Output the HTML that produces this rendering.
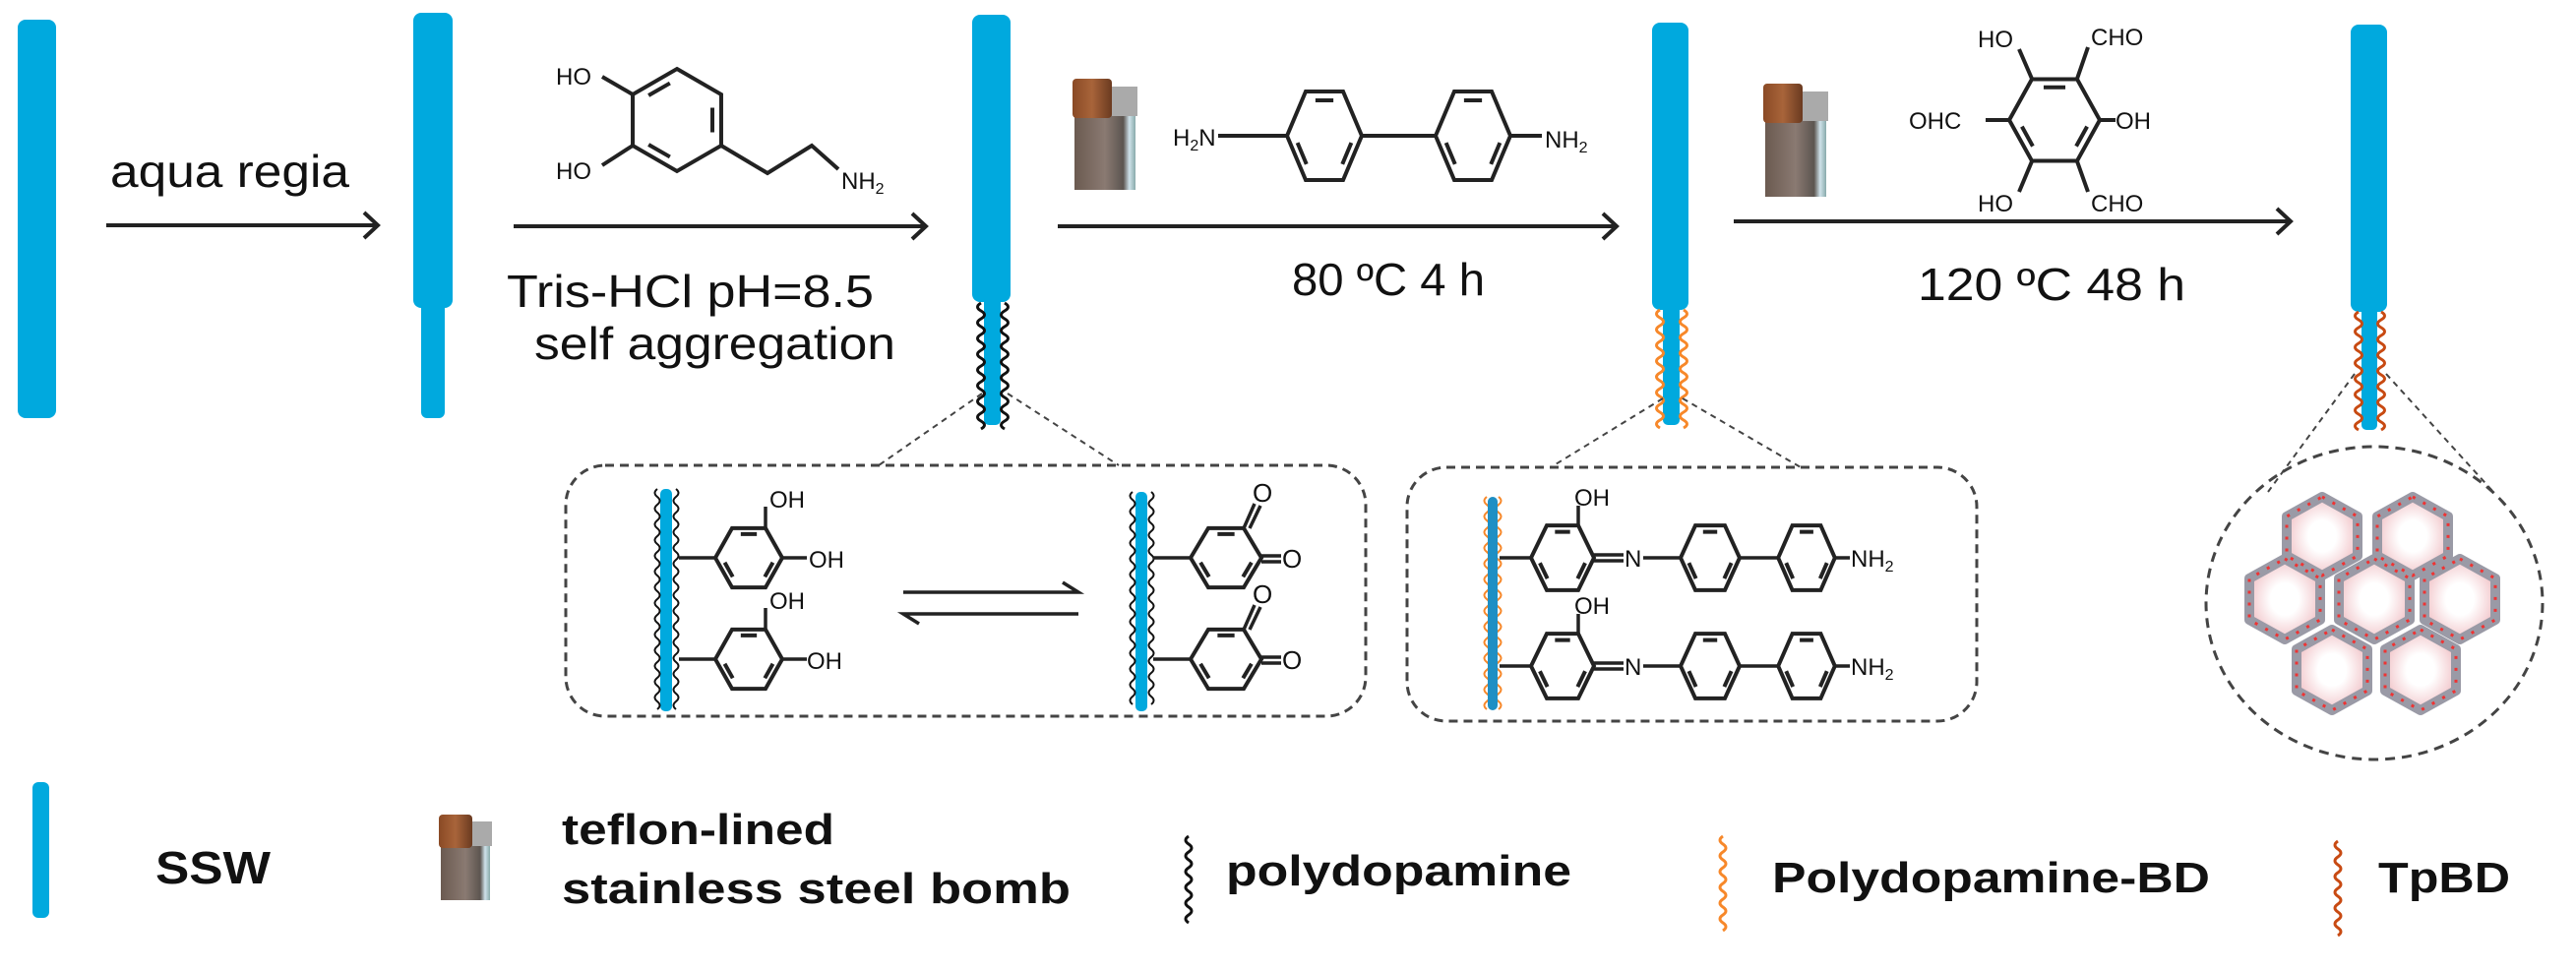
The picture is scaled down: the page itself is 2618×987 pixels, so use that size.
<!DOCTYPE html>
<html><head><meta charset="utf-8"><style>
html,body{margin:0;padding:0;background:#fff;}
svg{display:block;}
text{font-family:"Liberation Sans",Arial,sans-serif;fill:#111;}
.b{font-weight:bold;}
</style></head><body>
<svg width="2618" height="987" viewBox="0 0 2618 987" xmlns="http://www.w3.org/2000/svg">
<defs>
 <g id="ringP">
  <path d="M0,-40 L34.6,-20 L34.6,20 L0,40 L-34.6,20 L-34.6,-20 Z" fill="none" stroke="#222" stroke-width="4" vector-effect="non-scaling-stroke"/>
  <path d="M27.7,-9.6 L27.7,9.6 M-5.5,28.8 L-22.2,19.2 M-22.2,-19.2 L-5.5,-28.8" stroke="#222" stroke-width="4" vector-effect="non-scaling-stroke"/>
 </g>
 <g id="ringF">
  <path d="M-40,0 L-20,-34.6 L20,-34.6 L40,0 L20,34.6 L-20,34.6 Z" fill="none" stroke="#222" stroke-width="4" vector-effect="non-scaling-stroke"/>
  <path d="M-9.6,-27.7 L9.6,-27.7 M28.8,5.5 L19.2,22.2 M-19.2,22.2 L-28.8,5.5" stroke="#222" stroke-width="4" vector-effect="non-scaling-stroke"/>
 </g>
 <linearGradient id="bomb" x1="0" x2="1">
  <stop offset="0" stop-color="#6b5a50"/><stop offset="0.5" stop-color="#8a7a72"/><stop offset="0.8" stop-color="#5c5550"/><stop offset="0.9" stop-color="#cfe2ea"/><stop offset="1" stop-color="#8aa"/>
 </linearGradient>
 <linearGradient id="cap" x1="0" x2="1">
  <stop offset="0" stop-color="#8a4a25"/><stop offset="0.5" stop-color="#a8643a"/><stop offset="1" stop-color="#6a3a20"/>
 </linearGradient>
 <radialGradient id="pore"><stop offset="0.4" stop-color="#fff"/><stop offset="1" stop-color="#f2c8cc"/></radialGradient>
</defs>

<!-- Rods -->
<rect x="18" y="20" width="39" height="405" rx="8" fill="#00a9de"/>
<rect x="420" y="13" width="40" height="300" rx="8" fill="#00a9de"/>
<rect x="428" y="300" width="24" height="125" rx="6" fill="#00a9de"/>
<rect x="988" y="15" width="39" height="292" rx="8" fill="#00a9de"/>
<rect x="1000" y="300" width="17" height="132" rx="5" fill="#00a9de"/>
<rect x="1679" y="23" width="37" height="292" rx="8" fill="#00a9de"/>
<rect x="1690" y="305" width="17" height="127" rx="5" fill="#00a9de"/>
<rect x="2389" y="25" width="37" height="292" rx="8" fill="#00a9de"/>
<rect x="2400" y="307" width="16" height="130" rx="5" fill="#00a9de"/>

<!-- wavy coats -->
<g fill="none" stroke-width="3">
 <path stroke="#111" d="M997,308 q-7,4 0,8 t0,8 t0,8 t0,8 t0,8 t0,8 t0,8 t0,8 t0,8 t0,8 t0,8 t0,8 t0,8 t0,8 t0,8 t0,8"/>
 <path stroke="#111" d="M1021,308 q7,4 0,8 t0,8 t0,8 t0,8 t0,8 t0,8 t0,8 t0,8 t0,8 t0,8 t0,8 t0,8 t0,8 t0,8 t0,8 t0,8"/>
 <path stroke="#f7882a" d="M1687,315 q-7,4 0,8 t0,8 t0,8 t0,8 t0,8 t0,8 t0,8 t0,8 t0,8 t0,8 t0,8 t0,8 t0,8 t0,8 t0,8"/>
 <path stroke="#f7882a" d="M1711,315 q7,4 0,8 t0,8 t0,8 t0,8 t0,8 t0,8 t0,8 t0,8 t0,8 t0,8 t0,8 t0,8 t0,8 t0,8 t0,8"/>
 <path stroke="#c84a12" d="M2397,317 q-7,4 0,8 t0,8 t0,8 t0,8 t0,8 t0,8 t0,8 t0,8 t0,8 t0,8 t0,8 t0,8 t0,8 t0,8 t0,8"/>
 <path stroke="#c84a12" d="M2420,317 q7,4 0,8 t0,8 t0,8 t0,8 t0,8 t0,8 t0,8 t0,8 t0,8 t0,8 t0,8 t0,8 t0,8 t0,8 t0,8"/>
</g>

<!-- Arrows -->
<g stroke="#222" stroke-width="4" fill="none">
 <path d="M108,229 H383 M370,216 L384,229 L370,242"/>
 <path d="M522,230 H940 M927,217 L941,230 L927,243"/>
 <path d="M1075,230 H1642 M1629,217 L1643,230 L1629,243"/>
 <path d="M1762,225 H2327 M2314,212 L2328,225 L2314,238"/>
</g>

<!-- Reaction labels -->
<text x="112" y="190" font-size="46" textLength="243" lengthAdjust="spacingAndGlyphs">aqua regia</text>
<text x="515" y="312" font-size="46" textLength="373" lengthAdjust="spacingAndGlyphs">Tris-HCl pH=8.5</text>
<text x="543" y="365" font-size="46" textLength="367" lengthAdjust="spacingAndGlyphs">self aggregation</text>
<text x="1313" y="300" font-size="46" textLength="196" lengthAdjust="spacingAndGlyphs">80 ºC 4 h</text>
<text x="1949" y="305" font-size="46" textLength="272" lengthAdjust="spacingAndGlyphs">120 ºC 48 h</text>

<!-- Dopamine -->
<use href="#ringP" transform="translate(688,122) scale(1.3)"/>
<g stroke="#222" stroke-width="4" fill="none">
 <path d="M643,96 L612,78 M643,148 L612,168 M733,148 L780,176 L825,148 L852,172"/>
</g>
<text x="565" y="86" font-size="24">HO</text>
<text x="565" y="182" font-size="24">HO</text>
<text x="855" y="192" font-size="24">NH<tspan font-size="16" dy="5">2</tspan></text>

<!-- Bomb 1 -->
<rect x="1092" y="95" width="62" height="98" fill="url(#bomb)"/>
<rect x="1090" y="80" width="40" height="40" rx="4" fill="url(#cap)"/>
<rect x="1130" y="88" width="26" height="30" fill="#aaa"/>

<!-- Biphenyl -->
<use href="#ringF" transform="translate(1346,138) scale(0.95,1.3)"/>
<use href="#ringF" transform="translate(1497,138) scale(0.95,1.3)"/>
<g stroke="#222" stroke-width="4"><path d="M1238,138 H1308 M1384,138 H1459 M1535,138 H1567"/></g>
<text x="1192" y="148" font-size="24">H<tspan font-size="16" dy="5">2</tspan><tspan dy="-5">N</tspan></text>
<text x="1570" y="150" font-size="24">NH<tspan font-size="16" dy="5">2</tspan></text>

<!-- Bomb 2 -->
<rect x="1794" y="100" width="62" height="100" fill="url(#bomb)"/>
<rect x="1792" y="85" width="40" height="40" rx="4" fill="url(#cap)"/>
<rect x="1832" y="93" width="26" height="30" fill="#aaa"/>

<!-- Tp -->
<use href="#ringF" transform="translate(2088,122) scale(1.15,1.2)"/>
<g stroke="#222" stroke-width="4"><path d="M2065,80 L2052,50 M2111,80 L2122,48 M2042,122 H2018 M2134,122 H2150 M2065,164 L2052,195 M2111,164 L2122,195"/></g>
<text x="2010" y="48" font-size="24">HO</text>
<text x="2125" y="46" font-size="24">CHO</text>
<text x="1940" y="131" font-size="24">OHC</text>
<text x="2150" y="131" font-size="24">OH</text>
<text x="2010" y="215" font-size="24">HO</text>
<text x="2125" y="215" font-size="24">CHO</text>

<!-- Dotted connectors -->
<g stroke="#444" stroke-width="2" stroke-dasharray="6,5" fill="none">
 <path d="M998,400 L893,473 M1024,400 L1137,473"/>
 <path d="M1690,405 L1576,475 M1710,405 L1830,475"/>
 <path d="M2393,380 L2305,500 M2425,380 L2534,500"/>
</g>

<!-- Box 1 -->
<rect x="575" y="473" width="813" height="255" rx="40" fill="none" stroke="#444" stroke-width="3" stroke-dasharray="9,6"/>
<rect x="671" y="497" width="12" height="226" rx="5" fill="#00a9de"/>
<g fill="none" stroke="#111" stroke-width="2">
 <path d="M668,497 q-5,4 0,8 t0,8 t0,8 t0,8 t0,8 t0,8 t0,8 t0,8 t0,8 t0,8 t0,8 t0,8 t0,8 t0,8 t0,8 t0,8 t0,8 t0,8 t0,8 t0,8 t0,8 t0,8 t0,8 t0,8 t0,8 t0,8 t0,8 t0,8"/>
 <path d="M687,497 q5,4 0,8 t0,8 t0,8 t0,8 t0,8 t0,8 t0,8 t0,8 t0,8 t0,8 t0,8 t0,8 t0,8 t0,8 t0,8 t0,8 t0,8 t0,8 t0,8 t0,8 t0,8 t0,8 t0,8 t0,8 t0,8 t0,8 t0,8 t0,8"/>
</g>
<rect x="1154" y="500" width="12" height="223" rx="5" fill="#00a9de"/>
<g fill="none" stroke="#111" stroke-width="2">
 <path d="M1151,500 q-5,4 0,8 t0,8 t0,8 t0,8 t0,8 t0,8 t0,8 t0,8 t0,8 t0,8 t0,8 t0,8 t0,8 t0,8 t0,8 t0,8 t0,8 t0,8 t0,8 t0,8 t0,8 t0,8 t0,8 t0,8 t0,8 t0,8 t0,8"/>
 <path d="M1170,500 q5,4 0,8 t0,8 t0,8 t0,8 t0,8 t0,8 t0,8 t0,8 t0,8 t0,8 t0,8 t0,8 t0,8 t0,8 t0,8 t0,8 t0,8 t0,8 t0,8 t0,8 t0,8 t0,8 t0,8 t0,8 t0,8 t0,8 t0,8"/>
</g>
<use href="#ringF" transform="translate(761,567) scale(0.85,0.87)"/>
<use href="#ringF" transform="translate(761,670) scale(0.85,0.87)"/>
<use href="#ringF" transform="translate(1246,567) scale(0.9,0.87)"/>
<use href="#ringF" transform="translate(1246,670) scale(0.9,0.87)"/>
<g stroke="#222" stroke-width="3.5" fill="none">
 <path d="M690,567 H727 M778,537 V515 M795,567 H820"/>
 <path d="M690,670 H727 M778,640 V618 M795,670 H820"/>
 <path d="M1172,567 H1210 M1264,537 L1275,512 M1270,537 L1281,514 M1282,565 H1302 M1282,571 H1302"/>
 <path d="M1172,670 H1210 M1264,640 L1275,615 M1270,640 L1281,617 M1282,668 H1302 M1282,674 H1302"/>
 <path d="M918,602 H1096 L1080,592"/>
 <path d="M1096,624 H918 L934,634"/>
</g>
<text x="782" y="516" font-size="24">OH</text>
<text x="822" y="577" font-size="24">OH</text>
<text x="782" y="619" font-size="24">OH</text>
<text x="820" y="680" font-size="24">OH</text>
<text x="1273" y="510" font-size="26">O</text>
<text x="1303" y="577" font-size="26">O</text>
<text x="1273" y="613" font-size="26">O</text>
<text x="1303" y="680" font-size="26">O</text>

<!-- Box 2 -->
<rect x="1430" y="475" width="579" height="258" rx="40" fill="none" stroke="#444" stroke-width="3" stroke-dasharray="9,6"/>
<g fill="none" stroke="#f7882a" stroke-width="2">
 <path d="M1511,505 q-5,4 0,8 t0,8 t0,8 t0,8 t0,8 t0,8 t0,8 t0,8 t0,8 t0,8 t0,8 t0,8 t0,8 t0,8 t0,8 t0,8 t0,8 t0,8 t0,8 t0,8 t0,8 t0,8 t0,8 t0,8 t0,8 t0,8 t0,8"/>
 <path d="M1523,505 q5,4 0,8 t0,8 t0,8 t0,8 t0,8 t0,8 t0,8 t0,8 t0,8 t0,8 t0,8 t0,8 t0,8 t0,8 t0,8 t0,8 t0,8 t0,8 t0,8 t0,8 t0,8 t0,8 t0,8 t0,8 t0,8 t0,8 t0,8"/>
</g>
<rect x="1512" y="505" width="10" height="217" rx="5" fill="#1f8fc4"/>
<use href="#ringF" transform="translate(1588,567) scale(0.8,0.95)"/>
<use href="#ringF" transform="translate(1738,567) scale(0.75,0.95)"/>
<use href="#ringF" transform="translate(1836,567) scale(0.72,0.95)"/>
<use href="#ringF" transform="translate(1588,677) scale(0.8,0.95)"/>
<use href="#ringF" transform="translate(1738,677) scale(0.75,0.95)"/>
<use href="#ringF" transform="translate(1836,677) scale(0.72,0.95)"/>
<g stroke="#222" stroke-width="3.5" fill="none">
 <path d="M1524,567 H1556 M1604,534 V514 M1620,564 H1650 M1620,570 H1650 M1670,567 H1708 M1768,567 H1807 M1865,567 H1880"/>
 <path d="M1524,677 H1556 M1604,644 V624 M1620,674 H1650 M1620,680 H1650 M1670,677 H1708 M1768,677 H1807 M1865,677 H1880"/>
</g>
<text x="1600" y="514" font-size="24">OH</text>
<text x="1651" y="576" font-size="24">N</text>
<text x="1881" y="576" font-size="24">NH<tspan font-size="16" dy="5">2</tspan></text>
<text x="1600" y="624" font-size="24">OH</text>
<text x="1651" y="686" font-size="24">N</text>
<text x="1881" y="686" font-size="24">NH<tspan font-size="16" dy="5">2</tspan></text>

<!-- Circle + honeycomb -->
<ellipse cx="2413" cy="613" rx="171" ry="159" fill="none" stroke="#444" stroke-width="3" stroke-dasharray="10,7"/>
<g stroke="#9a9aa6" stroke-width="10" fill="url(#pore)" stroke-linejoin="round">
 <path d="M2360,505 l36,20 v40 l-36,20 l-36,-20 v-40 z"/>
 <path d="M2452,505 l36,20 v40 l-36,20 l-36,-20 v-40 z"/>
 <path d="M2322,568 l36,20 v42 l-36,20 l-36,-20 v-42 z"/>
 <path d="M2413,568 l36,20 v42 l-36,20 l-36,-20 v-42 z"/>
 <path d="M2500,568 l36,20 v42 l-36,20 l-36,-20 v-42 z"/>
 <path d="M2370,640 l36,20 v42 l-36,20 l-36,-20 v-42 z"/>
 <path d="M2460,640 l36,20 v42 l-36,20 l-36,-20 v-42 z"/>
</g>
<g stroke="#e33" stroke-width="3" stroke-dasharray="3,9" fill="none">
 <path d="M2360,505 l36,20 v40 l-36,20 l-36,-20 v-40 z M2452,505 l36,20 v40 l-36,20 l-36,-20 v-40 z M2322,568 l36,20 v42 l-36,20 l-36,-20 v-42 z M2413,568 l36,20 v42 l-36,20 l-36,-20 v-42 z M2500,568 l36,20 v42 l-36,20 l-36,-20 v-42 z M2370,640 l36,20 v42 l-36,20 l-36,-20 v-42 z M2460,640 l36,20 v42 l-36,20 l-36,-20 v-42 z"/>
</g>

<!-- Legend -->
<rect x="33" y="795" width="17" height="138" rx="6" fill="#00a9de"/>
<text class="b" x="158" y="898" font-size="46" textLength="117" lengthAdjust="spacingAndGlyphs">SSW</text>
<rect x="448" y="840" width="50" height="75" fill="url(#bomb)"/>
<rect x="446" y="828" width="34" height="34" rx="4" fill="url(#cap)"/>
<rect x="480" y="835" width="20" height="25" fill="#aaa"/>
<text class="b" x="571" y="858" font-size="44" textLength="277" lengthAdjust="spacingAndGlyphs">teflon-lined</text>
<text class="b" x="571" y="918" font-size="44" textLength="517" lengthAdjust="spacingAndGlyphs">stainless steel bomb</text>
<g fill="none" stroke-width="3">
 <path stroke="#111" d="M1208,850 q-6,4 0,8 t0,8 t0,8 t0,8 t0,8 t0,8 t0,8 t0,8 t0,8 t0,8 t0,8"/>
 <path stroke="#f7882a" d="M1751,850 q-6,4 0,8 t0,8 t0,8 t0,8 t0,8 t0,8 t0,8 t0,8 t0,8 t0,8 t0,8 t0,8"/>
 <path stroke="#c84a12" d="M2376,855 q-6,4 0,8 t0,8 t0,8 t0,8 t0,8 t0,8 t0,8 t0,8 t0,8 t0,8 t0,8 t0,8"/>
</g>
<text class="b" x="1246" y="900" font-size="44" textLength="351" lengthAdjust="spacingAndGlyphs">polydopamine</text>
<text class="b" x="1801" y="907" font-size="44" textLength="445" lengthAdjust="spacingAndGlyphs">Polydopamine-BD</text>
<text class="b" x="2417" y="907" font-size="44" textLength="134" lengthAdjust="spacingAndGlyphs">TpBD</text>
</svg>
</body></html>
